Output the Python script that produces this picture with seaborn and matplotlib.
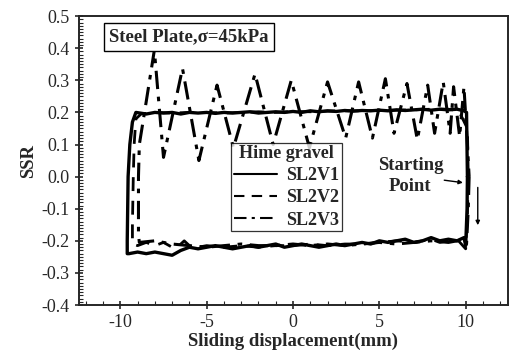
import numpy as np
import pandas as pd
import matplotlib
matplotlib.use("Agg")
import matplotlib.pyplot as plt
from matplotlib.ticker import MultipleLocator
from matplotlib.lines import Line2D
import seaborn as sns

# ---------------- data ----------------
v1_x = [10.1, 10.08, 10.0, 9.9, 9.5, 9.0, 8.5, 8.0, 7.5, 7.0, 6.5, 6.0, 5.5, 5.0, 4.5, 4.0,
        3.5, 3.0, 2.5, 2.0, 1.5, 1.0, 0.5, 0.0, -0.5, -1.0, -1.5, -2.0, -2.5, -3.0, -3.5,
        -4.0, -4.5, -5.0, -5.5, -6.0, -6.5, -7.0, -7.5, -8.0, -8.5, -9.0, -9.5, -9.6,
        -9.6, -9.55, -9.45, -9.3, -9.1, -8.5, -8.0, -7.5, -7.0, -6.5, -6.0, -5.5, -5.0,
        -4.5, -4.0, -3.5, -3.0, -2.5, -2.0, -1.5, -1.0, -0.5, 0.0, 0.5, 1.0, 1.5, 2.0,
        2.5, 3.0, 3.5, 4.0, 4.5, 5.0, 5.5, 6.0, 6.5, 7.0, 7.5, 8.0, 8.5, 9.0, 9.5, 9.9,
        10.05, 10.1]
v1_y = [0.0, -0.1, -0.215, -0.19, -0.2, -0.195, -0.2, -0.19, -0.2, -0.205, -0.195, -0.2,
        -0.205, -0.2, -0.21, -0.205, -0.21, -0.215, -0.21, -0.215, -0.22, -0.215, -0.21,
        -0.215, -0.22, -0.21, -0.215, -0.22, -0.215, -0.22, -0.225, -0.22, -0.215, -0.22,
        -0.225, -0.22, -0.23, -0.245, -0.24, -0.235, -0.24, -0.235, -0.24, -0.24,
        -0.2, 0.0, 0.1, 0.17, 0.2, 0.195, 0.2, 0.198, 0.2, 0.195, 0.2, 0.198, 0.2,
        0.197, 0.2, 0.198, 0.2, 0.202, 0.198, 0.2, 0.202, 0.2, 0.203, 0.2, 0.205, 0.202,
        0.205, 0.203, 0.206, 0.204, 0.206, 0.205, 0.207, 0.205, 0.208, 0.206, 0.208,
        0.21, 0.207, 0.21, 0.208, 0.21, 0.205, 0.2, 0.0]

v2_x = [10.15, 10.1, 10.0, 9.5, 9.0, 8.5, 8.0, 7.0, 6.0, 5.0, 4.0, 3.0, 2.0, 1.0, 0.0,
        -1.0, -2.0, -3.0, -4.0, -5.0, -5.5, -6.0, -6.3, -6.6, -7.0, -7.5, -8.0, -8.5,
        -9.0, -9.3, -9.3, -9.25, -9.2, -9.1, -8.8, -8.0, -7.0, -6.0, -5.0, -4.0, -3.0,
        -2.0, -1.0, 0.0, 1.0, 2.0, 3.0, 4.0, 5.0, 6.0, 7.0, 8.0, 9.0, 9.6, 10.1, 10.15]
v2_y = [0.0, -0.12, -0.225, -0.195, -0.2, -0.205, -0.195, -0.205, -0.2, -0.205, -0.21,
        -0.21, -0.215, -0.21, -0.215, -0.215, -0.22, -0.215, -0.22, -0.215, -0.22,
        -0.215, -0.2, -0.215, -0.22, -0.205, -0.215, -0.205, -0.215, -0.21,
        -0.15, 0.0, 0.1, 0.18, 0.195, 0.2, 0.198, 0.2, 0.2, 0.198, 0.2, 0.202, 0.2,
        0.203, 0.202, 0.204, 0.205, 0.205, 0.206, 0.207, 0.208, 0.21, 0.21, 0.205,
        0.15, 0.0]

v3_x = [10.2, 10.15, 10.05, 9.5, 9.0, 8.0, 7.0, 6.0, 5.0, 4.0, 3.0, 2.0, 1.0, 0.0,
        -1.0, -2.0, -3.0, -4.0, -5.0, -6.0, -7.0, -8.0, -8.9, -8.95, -8.95, -8.9,
        -8.6, -8.03, -7.5, -6.4, -5.45, -4.4, -3.45, -2.2, -1.15, -0.1, 0.95, 2.0,
        3.05, 3.8, 4.6, 5.35, 5.85, 6.6, 7.2, 7.8, 8.2, 8.7, 9.1, 9.3, 9.65, 9.9,
        10.1, 10.2]
v3_y = [0.0, -0.1, -0.21, -0.2, -0.205, -0.2, -0.205, -0.21, -0.205, -0.21, -0.215,
        -0.21, -0.215, -0.21, -0.215, -0.215, -0.21, -0.215, -0.22, -0.215, -0.21,
        -0.2, -0.205, -0.18, 0.0, 0.1, 0.2, 0.394, 0.06, 0.337, 0.05, 0.285, 0.09,
        0.32, 0.10, 0.30, 0.09, 0.295, 0.12, 0.295, 0.12, 0.305, 0.135, 0.29, 0.115,
        0.285, 0.135, 0.295, 0.135, 0.28, 0.125, 0.28, 0.1, 0.0]

series_names = ["SL2V1", "SL2V2", "SL2V3"]
legend_title = "Hime gravel"
box_text = "Steel Plate,\u03c3=45kPa"
x_ticks = [-10, -5, 0, 5, 10]
y_ticks = [-0.4, -0.3, -0.2, -0.1, 0.0, 0.1, 0.2, 0.3, 0.4, 0.5]

# ---------------- plotting ----------------
sns.set_style("ticks")
plt.rcParams["font.family"] = ["Liberation Serif", "DejaVu Serif"]

fig = plt.figure(figsize=(5.09, 3.58), dpi=100)
ax = fig.add_axes([0.155, 0.148, 0.843, 0.807])

df1 = pd.DataFrame({"x": v1_x, "y": v1_y})
df2 = pd.DataFrame({"x": v2_x, "y": v2_y})
df3 = pd.DataFrame({"x": v3_x, "y": v3_y})

dash2 = (0, (5, 3.5))
dash3 = (0, (6, 2.5, 1.5, 2.5))
sns.lineplot(data=df1, x="x", y="y", sort=False, estimator=None, ax=ax,
             color="black", lw=2.4, linestyle="-")
sns.lineplot(data=df2, x="x", y="y", sort=False, estimator=None, ax=ax,
             color="black", lw=2.0, linestyle=dash2)
sns.lineplot(data=df3, x="x", y="y", sort=False, estimator=None, ax=ax,
             color="black", lw=2.2, linestyle=dash3)

ax.set_xlim(-12.4, 12.45)
ax.set_ylim(-0.4, 0.5)
ax.set_xticks(x_ticks)
ax.set_xticklabels([str(t) for t in x_ticks])
ax.set_yticks(y_ticks)
ax.set_yticklabels([f"{t:.1f}" for t in y_ticks])
ax.xaxis.set_minor_locator(MultipleLocator(1))
ax.yaxis.set_minor_locator(MultipleLocator(0.01))
ax.tick_params(which="major", direction="inout", length=6, width=1.2, labelsize=13)
ax.tick_params(which="minor", direction="in", length=3, width=0.8)
for s in ax.spines.values():
    s.set_linewidth(1.4)

ax.set_xlabel("Sliding displacement(mm)", fontsize=13.5, fontweight="bold", labelpad=1)
ax.set_ylabel("SSR", fontsize=13.5, fontweight="bold", labelpad=3)

ax.text(-6.05, 0.435, box_text, ha="center", va="center", fontsize=13.5,
        fontweight="bold",
        bbox=dict(boxstyle="square,pad=0.28", fc="white", ec="black", lw=1))

ax.text(6.8, 0.003, "Starting\nPoint", ha="center", va="center", fontsize=13.5,
        fontweight="bold", linespacing=1.3)
ax.annotate("", xy=(10.0, -0.02), xytext=(8.6, -0.01),
            arrowprops=dict(arrowstyle="-|>", color="black", lw=1, mutation_scale=6))
ax.annotate("", xy=(10.7, -0.16), xytext=(10.7, -0.025),
            arrowprops=dict(arrowstyle="-|>", color="black", lw=1, mutation_scale=6))

handles = [Line2D([], [], color="black", lw=1.5, linestyle="-"),
           Line2D([], [], color="black", lw=1.5, linestyle=dash2),
           Line2D([], [], color="black", lw=1.5, linestyle=dash3)]
leg = ax.legend(handles, series_names, title=legend_title, loc="upper left",
                bbox_to_anchor=(0.355, 0.562), frameon=True, fancybox=False,
                edgecolor="black", handlelength=2.4, borderpad=0.15,
                borderaxespad=0, labelspacing=0.28, handletextpad=0.5,
                prop={"weight": "bold", "size": 13})
leg.get_title().set_fontweight("bold")
leg.get_title().set_fontsize(13)
leg.get_frame().set_linewidth(0.9)

fig.savefig("out.png", dpi=100)
